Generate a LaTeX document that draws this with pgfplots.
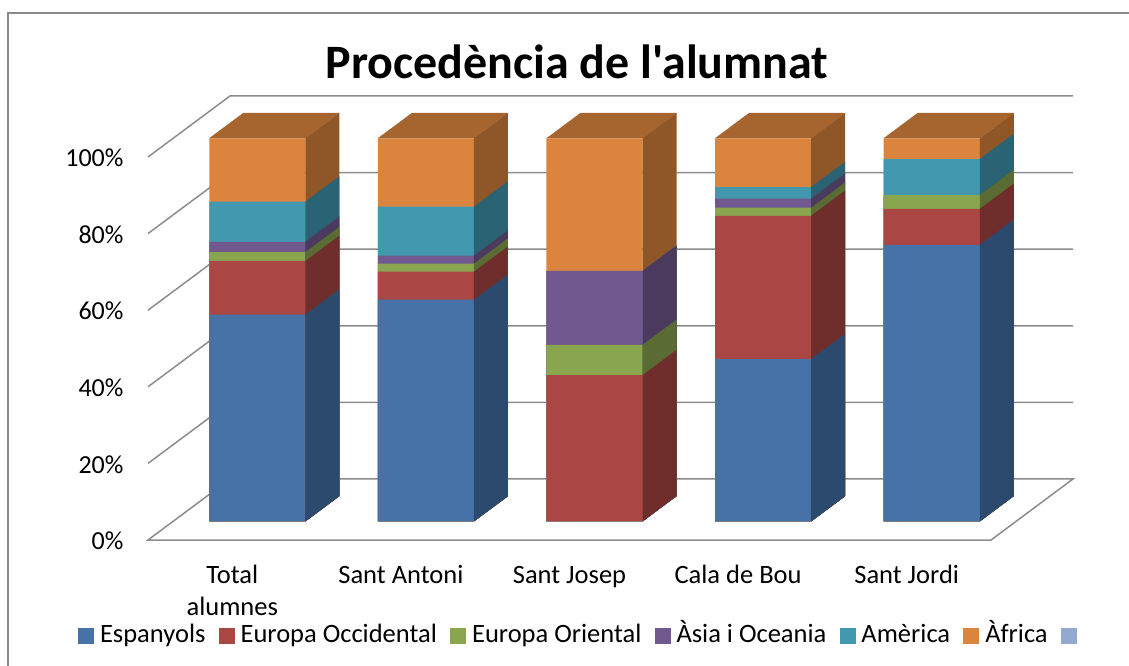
\documentclass[border=0pt]{standalone}
\usepackage{fontspec}
\setmainfont{Carlito}
\newfontfamily\titlefont{Carlito}
\usepackage{pgfplots}
\pgfplotsset{compat=1.18}

\definecolor{cA}{HTML}{4672A8}\definecolor{sA}{HTML}{2C4A6E}
\definecolor{cB}{HTML}{AA4644}\definecolor{sB}{HTML}{6F2E2C}
\definecolor{cC}{HTML}{89A54E}\definecolor{sC}{HTML}{5A6C33}
\definecolor{cD}{HTML}{71588F}\definecolor{sD}{HTML}{4A3A5E}
\definecolor{cE}{HTML}{4198AF}\definecolor{sE}{HTML}{2A6373}
\definecolor{cF}{HTML}{DB843D}\definecolor{sF}{HTML}{8F5628}
\definecolor{tF}{HTML}{A6652F}
\definecolor{cG}{HTML}{93A9CF}
\definecolor{gridLine}{HTML}{8C8C8C}
\definecolor{frameLine}{HTML}{8A8A8A}

% one segment, filled from the floor up to its cumulative top: x left, x right, top %, colour letter
\newcommand{\seg}[4]{%
  \addplot3[fill=c#4, draw=none, forget plot] coordinates
    {(#1,0.305,0) (#2,0.305,0) (#2,0.305,#3) (#1,0.305,#3) (#1,0.305,0)};
  \addplot3[fill=s#4, draw=none, forget plot] coordinates
    {(#2,0.305,0) (#2,0.72,0) (#2,0.72,#3) (#2,0.305,#3) (#2,0.305,0)};
}
% whole bar: x left, x right, then the cumulative tops, painted from the top segment down
\newcommand{\stackbar}[8]{%
  \addplot3[fill=tF, draw=tF, line width=0.2pt, forget plot] coordinates
    {(#1,0.305,#8) (#2,0.305,#8) (#2,0.72,#8) (#1,0.72,#8) (#1,0.305,#8)};
  \seg{#1}{#2}{#8}{F}\seg{#1}{#2}{#7}{E}\seg{#1}{#2}{#6}{D}%
  \seg{#1}{#2}{#5}{C}\seg{#1}{#2}{#4}{B}\seg{#1}{#2}{#3}{A}%
}
\newcommand{\gridat}[1]{%
  \addplot3[gridLine, line width=1.5pt, forget plot] coordinates
    {(0,0,#1) (0,1,#1) (5,1,#1)};
}

\begin{document}
\begin{tikzpicture}[x=1pt, y=1pt]
\useasboundingbox (-148,-126) rectangle (981,540);
\draw[frameLine, line width=1.3pt] (-140,-126) -- (-140,527) -- (981,527);
\node[font=\titlefont\fontsize{48}{52}\selectfont\bfseries] at (429,478) {Procedència de l'alumnat};
\begin{axis}[
  at={(0,0)}, anchor=origin,
  x={(168.6pt,0pt)}, y={(82pt,61pt)}, z={(0pt,3.83pt)},
  xmin=0, xmax=5, ymin=0, ymax=1, zmin=0, zmax=100,
  clip=false,
  axis line style={draw=none}, tick style={draw=none},
  xtick={0.5,1.5,2.5,3.5,4.5},
  xticklabels={{Total\\alumnes},Sant Antoni,Sant Josep,Cala de Bou,Sant Jordi},
  typeset ticklabels with strut,
  x tick label style={align=center, font=\fontsize{26.5}{32}\selectfont, anchor=north, yshift=-18pt},
  ytick=\empty,
  ztick={0,20,40,60,80,100},
  zticklabel={\pgfmathprintnumber{\tick}\%},
  z tick label style={font=\fontsize{26}{28}\selectfont, anchor=east, xshift=-21pt, yshift=-1pt,
    /pgf/number format/assume math mode=true},
  legend columns=7,
  legend style={draw=none, fill=none, font=\fontsize{26.5}{28}\selectfont,
    at={(axis description cs:-0.079,-0.2177)}, anchor=west,
    nodes={text height=18pt, text depth=6pt},
    /tikz/every odd column/.append style={column sep=4.5pt},
    /tikz/every even column/.append style={column sep=11.2pt}},
  legend image code/.code={\fill[#1] (0pt,-6.5pt) rectangle (15pt,8.5pt);},
]
\gridat{20}\gridat{40}\gridat{60}\gridat{80}\gridat{100}
\addplot3[gridLine, line width=1.5pt, forget plot] coordinates
  {(0,1,0) (0,0,0) (5,0,0) (5,1,0) (0,1,0)};

\stackbar{0.215}{0.785}{54.0}{68.0}{70.3}{73.0}{83.5}{100}
\stackbar{1.215}{1.785}{57.9}{65.2}{67.3}{69.4}{82.2}{100}
\stackbar{2.215}{2.785}{0}{38.2}{46.1}{65.4}{65.4}{100}
\stackbar{3.215}{3.785}{42.4}{79.8}{81.9}{84.3}{87.3}{100}
\stackbar{4.215}{4.785}{72.2}{81.6}{85.2}{85.2}{94.6}{100}

\addlegendimage{cA}\addlegendentry{Espanyols}
\addlegendimage{cB}\addlegendentry{Europa Occidental}
\addlegendimage{cC}\addlegendentry{Europa Oriental}
\addlegendimage{cD}\addlegendentry{Àsia i Oceania}
\addlegendimage{cE}\addlegendentry{Amèrica}
\addlegendimage{cF}\addlegendentry{Àfrica}
\addlegendimage{cG}\addlegendentry{}
\end{axis}
\end{tikzpicture}
\end{document}
